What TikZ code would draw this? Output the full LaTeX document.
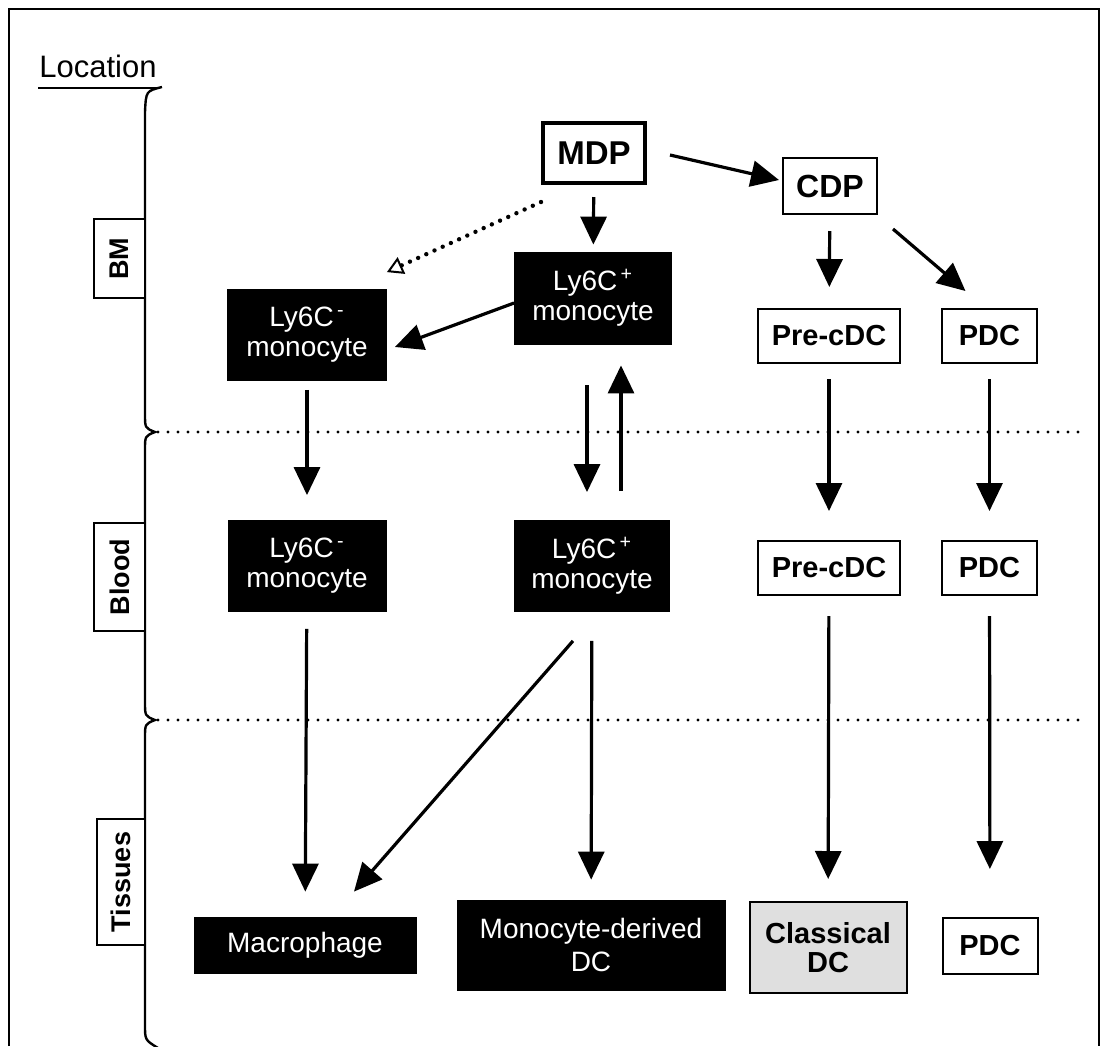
\documentclass[tikz,border=0pt]{standalone}
\usepackage{fontspec}
\setmainfont{Liberation Sans}
\usetikzlibrary{arrows.meta}
\tikzset{darkcell/.style={fill=black, draw=black, text=white, align=center, inner sep=0pt, font=\fontsize{14}{15}\selectfont},
lightcell/.style={fill=white, draw=black, line width=1pt, align=center, inner sep=0pt, font=\bfseries\fontsize{14.5}{14.5}\selectfont},
sitebox/.style={draw=black, fill=white, line width=1.1pt, rotate=90, inner sep=0pt, font=\bfseries\fontsize{13.5}{13.5}\selectfont},
%solid arrows between stages
fate/.style={-{Triangle[length=14pt,width=13pt]}, line width=1.6pt},
maybe/.style={-{Triangle[open,length=8pt,width=9pt,line width=1pt]}, line width=2.2pt, dash pattern=on 0pt off 4.5pt, line cap=round},
border/.style={line width=1.7pt, dash pattern=on 0pt off 5pt, line cap=round}}

\begin{document}
\begin{tikzpicture}[x=0.5pt,y=-0.5pt]
\useasboundingbox (0,0) rectangle (1104,1046);

\draw[line width=0.9pt] (9,1046) -- (9,9) -- (1099,9) -- (1099,1046);

% location column
\node[font=\fontsize{15.5}{15.5}\selectfont] (loc) at (98,66) {Location};
\draw[line width=1.2pt] (38,88) -- (160,88);
\draw[line width=1.2pt] (162,87) .. controls (146,91) .. (145,112) -- (145,414)
  .. controls (145,428) .. (155,432) .. controls (145,436) .. (145,450) -- (145,702)
  .. controls (145,716) .. (155,720) .. controls (145,724) .. (145,738) -- (145,1025)
  .. controls (145,1040) .. (158,1048);

\node[sitebox, minimum width=39.5pt, minimum height=25.5pt] (bm) at (119.5,258.5) {BM};
\node[sitebox, minimum width=54pt, minimum height=25.5pt] (blood) at (119.5,577) {Blood};
\node[sitebox, minimum width=63pt, minimum height=24pt] (tissues) at (121,882) {Tissues};

\foreach \y in {432,720}
    \draw[border] (158,\y) -- (1086,\y);

% bone marrow
\node[lightcell, line width=2pt, minimum width=51pt, minimum height=30pt, font=\bfseries\fontsize{16.5}{16.5}\selectfont] (mdp) at (594,153) {MDP};
\node[lightcell, minimum width=47pt, minimum height=28pt, font=\bfseries\fontsize{16}{16}\selectfont] (cdp) at (830,186) {CDP};
\node[darkcell, minimum width=78.5pt, minimum height=46pt] (bmplus) at (593,298) {Ly6C\textsuperscript{\,+}\\monocyte};
\node[darkcell, minimum width=79.5pt, minimum height=45.5pt] (bmminus) at (307,335) {Ly6C\textsuperscript{\,-}\\monocyte};
\node[lightcell, minimum width=71pt, minimum height=27pt] (bmpre) at (829,336) {Pre-cDC};
\node[lightcell, minimum width=47.5pt, minimum height=27pt] (bmpdc) at (989.5,336) {PDC};

% blood
\node[darkcell, minimum width=79pt, minimum height=45.5pt] (blminus) at (307,566) {Ly6C\textsuperscript{\,-}\\monocyte};
\node[darkcell, minimum width=77.5pt, minimum height=45.5pt] (blplus) at (592,566) {Ly6C\textsuperscript{\,+}\\monocyte};
\node[lightcell, minimum width=71pt, minimum height=27pt] (blpre) at (829,568) {Pre-cDC};
\node[lightcell, minimum width=47.5pt, minimum height=27pt] (blpdc) at (989.5,568) {PDC};

% tissues
\node[darkcell, minimum width=111pt, minimum height=28pt] (macro) at (305,945) {Macrophage};
\node[darkcell, minimum width=134pt, minimum height=45pt, font=\fontsize{14}{16.5}\selectfont] (mddc) at (591,945) {Monocyte-derived\\DC};
\node[lightcell, fill=gray!25, minimum width=78.5pt, minimum height=45.5pt] (cdc) at (828,947.5) {Classical\\DC};
\node[lightcell, minimum width=47.5pt, minimum height=28pt] (tpdc) at (990,946) {PDC};

\draw[fate, shorten <=6pt, shorten >=3.5pt] (mdp) -- (bmplus);
\draw[fate] ([xshift=11.5pt,yshift=-1pt]mdp.east) -- ([xshift=-1.5pt,yshift=3pt]cdp.west);
\draw[maybe] ([yshift=-8.5pt]mdp.south west) -- ([yshift=8.5pt]bmminus.north east);
\draw[fate] ([yshift=-2.5pt]bmplus.west) -- ([xshift=4pt,yshift=-6pt]bmminus.east);
\draw[fate, shorten <=8pt, shorten >=10.5pt] (cdp) -- (bmpre);
\draw[fate] ([xshift=7.5pt,yshift=-7pt]cdp.south east) -- ([xshift=-12pt,yshift=8.5pt]bmpdc.north);

\draw[fate, shorten <=4.5pt, shorten >=12.5pt] (bmminus) -- (blminus);
\draw[fate, shorten <=20.5pt, shorten >=14pt] ([xshift=-3pt]bmplus.south) -- ([xshift=-2.5pt]blplus.north);
\draw[fate, shorten <=14.5pt, shorten >=10.5pt] ([xshift=14.5pt]blplus.north) -- ([xshift=14pt]bmplus.south);
\draw[fate, shorten <=7.5pt, shorten >=14.5pt] (bmpre) -- (blpre);
\draw[fate, shorten <=7.5pt, shorten >=14.5pt] (bmpdc) -- (blpdc);

\draw[fate, shorten <=8.5pt, shorten >=12.5pt] (blminus) -- (macro);
\draw[fate] ([xshift=-9.5pt,yshift=-14.5pt]blplus.south) -- ([xshift=24.5pt,yshift=12.5pt]macro.north);
\draw[fate, shorten <=14.5pt, shorten >=10pt] (blplus) -- (mddc);
\draw[fate, shorten <=10pt, shorten >=11pt] (blpre) -- (cdc);
\draw[fate, shorten <=10pt, shorten >=24pt] (blpdc) -- (tpdc);

\end{tikzpicture}
\end{document}
